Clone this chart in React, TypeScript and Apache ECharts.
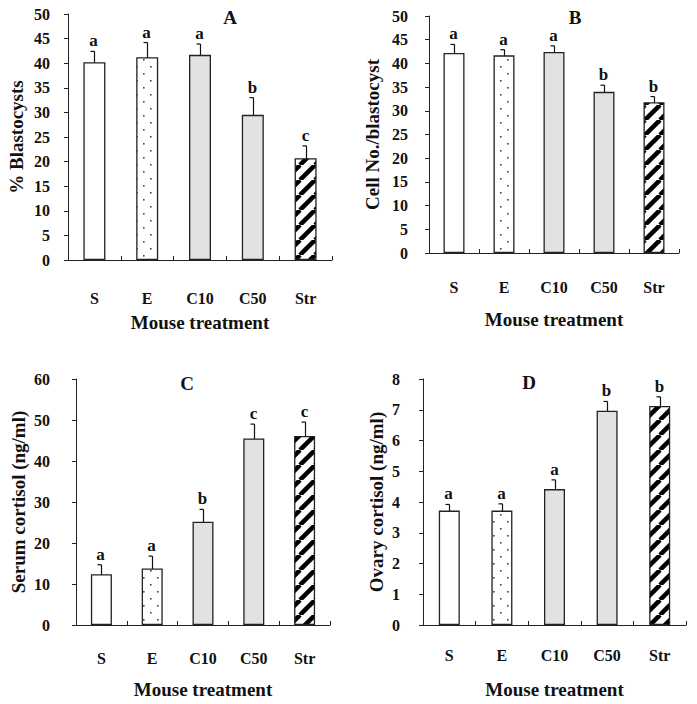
import React, { useEffect, useRef } from "react";
import * as echarts from "echarts";

const categories = ["S", "E", "C10", "C50", "Str"];

const blastocystPct = [40.2, 41.2, 41.7, 29.5, 20.7];
const blastocystErr = [2.2, 3.0, 2.2, 3.5, 2.5];
const blastocystLetters = ["a", "a", "a", "b", "c"];

const cellNo = [42.2, 41.7, 42.4, 34.0, 31.8];
const cellNoErr = [1.8, 1.2, 1.3, 1.4, 1.2];
const cellNoLetters = ["a", "a", "a", "b", "b"];

const serumCortisol = [12.4, 13.8, 25.2, 45.5, 46.1];
const serumCortisolErr = [2.3, 3.0, 3.0, 3.5, 3.4];
const serumLetters = ["a", "a", "b", "c", "c"];

const ovaryCortisol = [3.72, 3.72, 4.42, 6.97, 7.12];
const ovaryCortisolErr = [0.2, 0.22, 0.3, 0.3, 0.3];
const ovaryLetters = ["a", "a", "a", "b", "b"];

const panelTitles = ["A", "B", "C", "D"];
const yNames = ["% Blastocysts", "Cell No./blastocyst", "Serum cortisol (ng/ml)", "Ovary cortisol (ng/ml)"];
const xName = "Mouse treatment";

const FONT = '"Liberation Serif", "Times New Roman", serif';
const INK = "#111";

function makeDots() {
  const c = document.createElement("canvas");
  c.width = 14;
  c.height = 14;
  const g = c.getContext("2d")!;
  g.fillStyle = "#ffffff";
  g.fillRect(0, 0, 14, 14);
  g.fillStyle = "#444";
  g.fillRect(3, 3, 1.6, 1.6);
  g.fillRect(10, 10, 1.6, 1.6);
  return c;
}

function makeHatch() {
  const s = 15;
  const c = document.createElement("canvas");
  c.width = s;
  c.height = s;
  const g = c.getContext("2d")!;
  g.fillStyle = "#ffffff";
  g.fillRect(0, 0, s, s);
  g.strokeStyle = "#000";
  g.lineWidth = 4.5;
  for (const o of [-s, 0, s]) {
    g.beginPath();
    g.moveTo(o, s);
    g.lineTo(o + s, 0);
    g.stroke();
  }
  return c;
}

export default function App() {
  const ref = useRef<HTMLDivElement>(null);
  useEffect(() => {
    if (!ref.current) return;
    const chart = echarts.init(ref.current, null, { renderer: "svg" });
    const dots = makeDots();
    const hatch = makeHatch();
    const fills: any[] = [
      "#ffffff",
      { image: dots, repeat: "repeat", imageWidth: 14, imageHeight: 14 },
      "#e2e2e2",
      "#e2e2e2",
      { image: hatch, repeat: "repeat", imageWidth: 15, imageHeight: 15 },
    ];

    const panels = [
      { grid: { left: 68, top: 14, width: 264, height: 246 }, max: 50, interval: 5, vals: blastocystPct, errs: blastocystErr, letters: blastocystLetters, yGap: 42, yMargin: 18, xMargin: 30, xGap: 53, bw: 22 },
      { grid: { left: 429, top: 16, width: 250, height: 237 }, max: 50, interval: 5, vals: cellNo, errs: cellNoErr, letters: cellNoLetters, yGap: 47, yMargin: 21, xMargin: 26, xGap: 57, bw: 21 },
      { grid: { left: 76, top: 379, width: 254, height: 246 }, max: 60, interval: 10, vals: serumCortisol, errs: serumCortisolErr, letters: serumLetters, yGap: 48, yMargin: 26, xMargin: 25, xGap: 55, bw: 21 },
      { grid: { left: 423, top: 379, width: 263, height: 246 }, max: 8, interval: 1, vals: ovaryCortisol, errs: ovaryCortisolErr, letters: ovaryLetters, yGap: 37, yMargin: 23, xMargin: 22, xGap: 55, bw: 21 },
    ];
    const titlePos = [
      [230, 17],
      [575, 17],
      [187, 383],
      [529, 382],
    ];

    const grids: any[] = [];
    const xAxes: any[] = [];
    const yAxes: any[] = [];
    const series: any[] = [];

    panels.forEach((p, k) => {
      grids.push({ ...p.grid, containLabel: false });
      xAxes.push({
        type: "category",
        gridIndex: k,
        data: categories,
        boundaryGap: true,
        axisLine: { lineStyle: { color: "#222", width: 1 } },
        axisTick: { show: true, inside: true, length: 4, lineStyle: { color: "#222" } },
        axisLabel: { margin: p.xMargin, color: INK, fontFamily: FONT, fontWeight: "bold", fontSize: 16 },
        name: xName,
        nameLocation: "middle",
        nameGap: p.xGap,
        nameTextStyle: { color: INK, fontFamily: FONT, fontWeight: "bold", fontSize: 19 },
        splitLine: { show: false },
      });
      yAxes.push({
        type: "value",
        gridIndex: k,
        min: 0,
        max: p.max,
        interval: p.interval,
        axisLine: { show: true, lineStyle: { color: "#222", width: 1 } },
        axisTick: { show: true, inside: false, length: 4, lineStyle: { color: "#222" } },
        axisLabel: { margin: p.yMargin, color: INK, fontFamily: FONT, fontWeight: "bold", fontSize: 16 },
        splitLine: { show: false },
        name: yNames[k],
        nameLocation: "middle",
        nameRotate: 90,
        nameGap: p.yGap,
        nameTextStyle: { color: INK, fontFamily: FONT, fontWeight: "bold", fontSize: 19 },
      });
      series.push({
        type: "bar",
        xAxisIndex: k,
        yAxisIndex: k,
        barWidth: p.bw,
        data: p.vals.map((v, i) => ({
          value: v,
          itemStyle: { color: fills[i], borderColor: "#222", borderWidth: 1.3 },
        })),
      });
      const letters = p.letters;
      series.push({
        type: "custom",
        xAxisIndex: k,
        yAxisIndex: k,
        encode: { x: 0, y: [1, 2] },
        data: p.vals.map((v, i) => [i, v - p.errs[i], v + p.errs[i]]),
        renderItem: (params: any, api: any) => {
          const i = api.value(0);
          const lo = api.coord([i, api.value(1)]);
          const hi = api.coord([i, api.value(2)]);
          const x = Math.round(lo[0]) + 0.5;
          const ls = { stroke: "#111", lineWidth: 1.2 };
          return {
            type: "group",
            children: [
              { type: "line", shape: { x1: x, y1: lo[1], x2: x, y2: hi[1] }, style: ls },
              { type: "line", shape: { x1: x - 4, y1: hi[1], x2: x, y2: hi[1] }, style: ls },
              { type: "line", shape: { x1: x - 4, y1: lo[1], x2: x, y2: lo[1] }, style: ls },
              {
                type: "text",
                x: x - 1,
                y: hi[1] - 2,
                style: {
                  text: letters[i],
                  fill: INK,
                  font: `bold 17px ${FONT}`,
                  align: "center",
                  verticalAlign: "bottom",
                },
              },
            ],
          };
        },
      });
    });

    chart.setOption({
      animation: false,
      backgroundColor: "#ffffff",
      grid: grids,
      xAxis: xAxes,
      yAxis: yAxes,
      series,
      graphic: panelTitles.map((t, k) => ({
        type: "text",
        x: titlePos[k][0],
        y: titlePos[k][1],
        style: {
          text: t,
          fill: INK,
          font: `bold 19px ${FONT}`,
          align: "center",
          verticalAlign: "middle",
        },
      })),
    });
    return () => chart.dispose();
  }, []);
  return (
    <div
      ref={ref}
      style={{ position: "absolute", left: 0, top: 0, width: 697, height: 704 }}
    />
  );
}
